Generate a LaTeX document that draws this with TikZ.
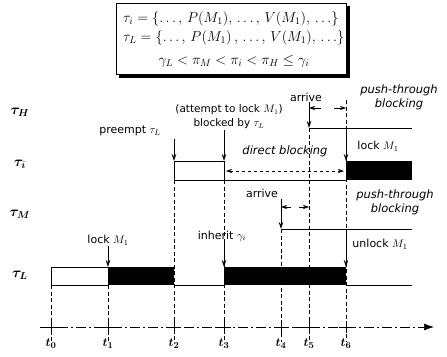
\documentclass[tikz,border=0pt]{standalone}
\usepackage{amsmath}
\usepackage{fontspec}
\setmainfont{DejaVu Sans}
\usetikzlibrary{positioning, calc, arrows.meta}

\tikzset{
  timeline/.style={line width=0.8pt, dash pattern=on 4pt off 2.5pt},
  event/.style={-{Stealth[length=7pt,width=4.5pt]}, line width=0.8pt},
  span/.style={-{Stealth[length=6pt,width=4pt]}, line width=0.6pt},
  row/.style={line width=0.7pt},
  txt/.style={font=\fontsize{11}{13}\selectfont, inner sep=1pt},
  itxt/.style={font=\fontsize{11.5}{13}\selectfont\itshape, inner sep=1pt},
  tasklbl/.style={font=\fontsize{14}{16}\selectfont, inner sep=1pt},
  setline/.style={font=\fontsize{14}{17}\selectfont, inner sep=1pt},
}

\begin{document}
\begin{tikzpicture}[x=1pt, y=-1pt]
  \useasboundingbox (0,0) rectangle (447,356);

  % priority box at the top, with its shadow
  \draw[line width=0.5pt] (116,3) rectangle (346,74);
  \fill (119,74) rectangle (350,78);
  \fill (346,6) rectangle (350,78);
  \node[setline, anchor=west] (setI) at (122,19) {$\tau_i = \{\ldots,\, P(M_1),\, \ldots,\, V(M_1),\, \ldots\}$};
  \node[setline, anchor=west] (setL) at (122,38) {$\tau_L = \{\ldots,\, P(M_1)\,,\, \ldots,\, V(M_1),\, \ldots\}$};
  \node[setline, font=\fontsize{14.5}{17}\selectfont] (prio) at (234,61) {$\gamma_L < \pi_M < \pi_i < \pi_H \le \gamma_i$};

  % instants on the time axis
  \foreach \n/\x in {0/51,1/108,2/174,3/224,4/281,5/309,6/346}
    \coordinate (t\n) at (\x,327);

  % task names
  \node[tasklbl] (nH) at (20,112) {$\boldsymbol{\tau_H}$};
  \node[tasklbl] (nI) at (20,164) {$\boldsymbol{\tau_i}$};
  \node[tasklbl] (nM) at (20,214) {$\boldsymbol{\tau_M}$};
  \node[tasklbl] (nL) at (20,275) {$\boldsymbol{\tau_L}$};

  % dashed instants
  \draw[timeline] (51,285) -- (51,342);
  \draw[timeline] (108,285) -- (108,342);
  \draw[timeline] (174,180) -- (174,342);
  \draw[timeline] (224,180) -- (224,342);
  \draw[timeline] (281,229) -- (281,342);
  \draw[timeline] (309,128) -- (309,342);
  \draw[timeline] (346,100) -- (346,342);

  % tau_H
  \draw[row] (309,128) -- (412,128);
  % tau_i
  \draw[row] (174,161) rectangle (224,180);
  \draw[row] (224,180) -- (346,180);
  \fill (346,161) rectangle (412,180);
  % tau_M
  \draw[row] (281,229) -- (412,229);
  % tau_L
  \draw[row] (51,267) rectangle (108,285);
  \fill (108,267) rectangle (174,285);
  \draw[row] (174,285) -- (224,285);
  \fill (224,267) rectangle (346,285);
  \draw[row] (346,285) -- (412,285);

  % time axis
  \draw[line width=0.7pt, dash pattern=on 10pt off 3pt on 2pt off 3pt,
        -{Latex[length=10pt,width=7pt]}] (40,327) -- (434,327);
  \foreach \n in {0,...,6}{
    \draw[line width=0.8pt] ($(t\n)+(0,-6)$) -- ($(t\n)+(0,6)$);
    \draw[line width=0.8pt] ($(t\n)+(-7,0)$) -- ($(t\n)+(7,0)$);
    \node[tasklbl, below=17pt of t\n, anchor=center, font=\fontsize{13}{15}\selectfont] (lt\n) {$\boldsymbol{t_\n}$};
  }

  % events on tau_L
  \node[txt] (lockL) at (108,240) {lock $M_1$};
  \coordinate (lockLe) at (108,267);
  \draw[event] (lockL.south -| lockLe) -- (lockLe);
  \node[txt] (inh) at (222,236) {inherit $\gamma_i$};
  \coordinate (inhe) at (224,267);
  \draw[event] (inh.south -| inhe) -- (inhe);
  \node[txt] (unlock) at (380,244) {unlock $M_1$};
  \coordinate (unlocks) at (346,229);
  \coordinate (unlocke) at (346,267);
  \draw[event] (unlocks) -- (unlocke);

  % events on tau_i
  \node[txt] (pre) at (130,131) {preempt $\tau_L$};
  \coordinate (pree) at (174,161);
  \draw[event] (174,139) -- (pree);
  \node[txt, font=\fontsize{10.5}{13}\selectfont] (att) at (229,110) {(attempt to lock $M_1$)};
  \node[txt, font=\fontsize{10.5}{13}\selectfont, below=1.5pt of att] (blk) {blocked by $\tau_L$};
  \coordinate (blke) at (224,161);
  \draw[event] (blk.south -| blke) -- (blke);
  \coordinate (dbl) at (226,171);
  \coordinate (dbr) at (344,171);
  \node[itxt] (direct) at (285,151) {direct blocking};
  \draw[line width=0.6pt, dashed, {Stealth[length=6pt,width=4pt]}-{Stealth[length=6pt,width=4pt]}] (dbl) -- (dbr);

  % events on tau_H
  \node[txt] (arrH) at (306,97) {arrive};
  \coordinate (arrHe) at (309,128);
  \draw[event] (arrH.south -| arrHe) -- (arrHe);
  \node[txt] (lockH) at (378,146) {lock $M_1$};
  \coordinate (lockHs) at (346,128);
  \coordinate (lockHe) at (346,161);
  \draw[event] (lockHs) -- (lockHe);
  \node[itxt] (ptH) at (399,90) {push-through};
  \node[itxt, below=1pt of ptH] (ptHb) {blocking};
  \coordinate (ptHl) at (309,108);
  \coordinate (ptHr) at (346,108);
  \draw[span] (321,108) -- (ptHl);
  \draw[span] (334,108) -- (ptHr);

  % events on tau_M
  \node[txt] (arrM) at (262,193) {arrive};
  \coordinate (arrMe) at (281,229);
  \draw[event] (281,199) -- (arrMe);
  \node[itxt] (ptM) at (395,195) {push-through};
  \node[itxt, below=1pt of ptM] (ptMb) {blocking};
  \coordinate (ptMl) at (281,207);
  \coordinate (ptMr) at (309,207);
  \draw[span] (291,207) -- (ptMl);
  \draw[span] (299,207) -- (ptMr);
\end{tikzpicture}
\end{document}
